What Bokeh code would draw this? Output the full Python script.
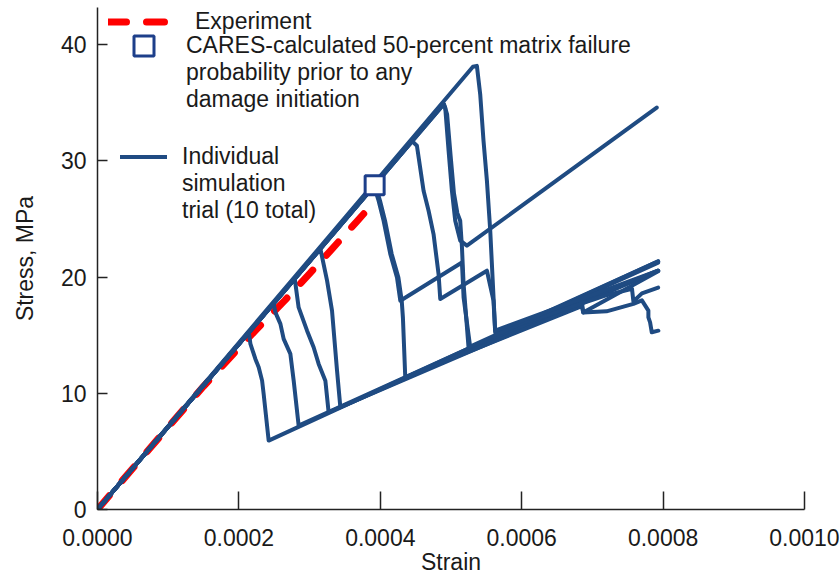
from bokeh.plotting import figure
from bokeh.models import Range1d, Legend, LegendItem, FixedTicker
from bokeh.embed import file_html
from bokeh.resources import INLINE

# ---------------- data ----------------
x_ticks = [0.0, 0.0002, 0.0004, 0.0006, 0.0008, 0.0010]
x_tick_labels = ["0.0000", "0.0002", "0.0004", "0.0006", "0.0008", "0.0010"]
y_ticks = [0, 10, 20, 30, 40]
y_tick_labels = ["0", "10", "20", "30", "40"]

exp_strain = [0.0, 0.00005, 0.0001, 0.00015, 0.0002, 0.000225, 0.000265, 0.0003, 0.00033, 0.000367, 0.000395]
exp_stress = [0.0, 3.55, 7.1, 10.6, 13.9, 15.5, 18.0, 20.3, 22.3, 24.8, 26.7]

cares_strain = [0.000392]
cares_stress = [27.9]

t1_strain = [0, 0.000214, 0.0002163, 0.0002233, 0.000228, 0.0002328, 0.000235, 0.0002421, 0.000793]
t1_stress = [0, 15.25, 14.25, 12.96, 12.24, 11.09, 9.95, 5.93, 21.35]

t2_strain = [0, 0.000249, 0.0002516, 0.0002587, 0.0002633, 0.0002728, 0.0002775, 0.0002845, 0.000793]
t2_stress = [0, 17.75, 16.96, 15.97, 14.68, 13.39, 11.09, 7.22, 21.25]

t3_strain = [0, 0.000279, 0.0002845, 0.0002964, 0.0003057, 0.0003128, 0.0003223, 0.0003269, 0.000793]
t3_stress = [0, 19.85, 17.39, 15.39, 13.96, 12.53, 11.09, 8.37, 20.55]

t4_strain = [0, 0.0003152, 0.0003247, 0.0003317, 0.0003388, 0.0003435, 0.000685, 0.000687, 0.000793]
t4_stress = [0, 22.45, 19.69, 17.11, 11.95, 8.80, 17.97, 16.96, 20.5]

t5_strain = [0, 0.000391, 0.0003976, 0.0004047, 0.0004141, 0.0004236, 0.0004283, 0.0005155, 0.0005178, 0.0005272, 0.000793]
t5_stress = [0, 27.85, 26.57, 24.85, 21.99, 19.97, 17.97, 21.26, 18.25, 13.96, 20.55]

t6_strain = [0, 0.000393, 0.0003996, 0.0004067, 0.0004161, 0.0004256, 0.0004303, 0.000432, 0.0004353,
             0.000685, 0.000687, 0.00072, 0.000758, 0.00077, 0.0007792, 0.0007792, 0.0007816, 0.000784, 0.0007933]
t6_stress = [0, 27.95, 26.57, 24.85, 21.99, 19.97, 17.97, 16.5, 11.38,
             17.5, 16.96, 17.05, 17.7, 18.0, 17.11, 16.53, 16.1, 15.25, 15.39]

t7_strain = [0, 0.000445, 0.0004518, 0.0004612, 0.0004683, 0.0004753, 0.0004824, 0.0004848,
             0.0005508, 0.0005601, 0.0005625, 0.000718, 0.000756, 0.000758, 0.00077, 0.000793]
t7_stress = [0, 31.7, 31.3, 27.43, 25.71, 23.7, 20.27, 18.12,
             20.55, 17.97, 15.24, 18.4, 19.0, 17.9, 18.6, 19.1]

t8_strain = [0, 0.0004895, 0.0004918, 0.0004966, 0.0005013, 0.000506, 0.0005131, 0.0005225, 0.000791]
t8_stress = [0, 34.85, 34.6, 30.87, 27.43, 24.85, 23.13, 22.7, 34.59]

t9_strain = [0, 0.00049, 0.0004945, 0.0004995, 0.0005042, 0.000509, 0.000513, 0.0005155, 0.0005178, 0.0005248, 0.000793]
t9_stress = [0, 34.9, 34.0, 30.4, 27.2, 25.5, 24.85, 22.55, 19.4, 13.96, 21.35]

t10_strain = [0, 0.000531, 0.0005366, 0.0005413, 0.000546, 0.0005508, 0.0005555, 0.0005625, 0.000793]
t10_stress = [0, 38.1, 38.18, 35.74, 31.73, 28.29, 23.99, 15.39, 20.55]

trials = [(t1_strain, t1_stress), (t2_strain, t2_stress), (t3_strain, t3_stress), (t4_strain, t4_stress),
          (t5_strain, t5_stress), (t6_strain, t6_stress), (t7_strain, t7_stress), (t8_strain, t8_stress),
          (t9_strain, t9_stress), (t10_strain, t10_stress)]

legend_exp = ["Experiment"]
legend_cares = ["CARES-calculated 50-percent matrix failure", "probability prior to any", "damage initiation"]
legend_trial = ["Individual", "simulation", "trial (10 total)"]

# ---------------- styling ----------------
FONT = "Liberation Sans"
BLUE = "#1f4b82"
SQUARE = "#1d3f8a"
RED = "#ff0000"
TXT = "#1a1a1a"

p = figure(width=840, height=577, output_backend="svg", toolbar_location=None,
           x_range=Range1d(0, 0.001), y_range=Range1d(0, 43.2),
           min_border_left=97, min_border_right=36, min_border_top=7, min_border_bottom=68)
p.outline_line_color = None
p.grid.visible = False
p.background_fill_color = "white"

# experiment (drawn under the simulations)
red_r = p.line(exp_strain, exp_stress, line_color=RED, line_width=7, line_dash="18 20",
               line_cap="round", line_join="round")

trial_renderers = []
for xs, ys in trials:
    r = p.line(xs, ys, line_color=BLUE, line_width=4, line_cap="round", line_join="round")
    trial_renderers.append(r)

sq_r = p.rect(x=cares_strain, y=cares_stress, width=19, height=19, width_units="screen",
              height_units="screen", fill_color="white", line_color=SQUARE, line_width=3)

# axes
for ax in (p.xaxis[0], p.yaxis[0]):
    ax.axis_line_color = "#222222"
    ax.axis_line_width = 1.5
    ax.major_tick_line_color = "#222222"
    ax.major_tick_line_width = 1.5
    ax.major_tick_out = 0
    ax.minor_tick_line_color = None
    ax.major_label_text_font = FONT
    ax.major_label_text_font_size = "23px"
    ax.major_label_text_color = TXT
    ax.axis_label_text_font = FONT
    ax.axis_label_text_font_size = "23px"
    ax.axis_label_text_font_style = "normal"
    ax.axis_label_text_color = TXT

p.xaxis.ticker = FixedTicker(ticks=x_ticks)
p.xaxis.major_label_overrides = {t: l for t, l in zip(x_ticks, x_tick_labels)}
p.xaxis.major_tick_in = 18
p.xaxis.major_label_standoff = 19
p.xaxis.axis_label = "Strain"
p.xaxis.axis_label_standoff = 0

p.yaxis.ticker = FixedTicker(ticks=y_ticks)
p.yaxis.major_label_overrides = {t: l for t, l in zip(y_ticks, y_tick_labels)}
p.yaxis.major_tick_in = 10
p.yaxis.major_label_standoff = 11
p.yaxis.axis_label = "Stress, MPa"
p.yaxis.axis_label_standoff = 20

# legends (one legend per block so that each block sits where the reference has it)
leg_kw = dict(border_line_color=None, background_fill_alpha=0, padding=0, margin=0, spacing=0,
              label_text_font=FONT, label_text_font_size="23px", label_text_color=TXT,
              label_height=25, glyph_height=25)


def block(lines, renderer):
    items = [LegendItem(label=lines[0], renderers=[renderer])]
    items += [LegendItem(label=t, renderers=[]) for t in lines[1:]]
    return items


legend_a = Legend(items=block(legend_exp, red_r), location=(11, 474),
                  glyph_width=72, label_standoff=15, **leg_kw)
legend_b = Legend(items=block(legend_cares, sq_r), location=(34, 396),
                  glyph_width=25, label_standoff=30, **leg_kw)
legend_c = Legend(items=block(legend_trial, trial_renderers[0]), location=(23, 285),
                  glyph_width=47, label_standoff=15, **leg_kw)

p.add_layout(legend_a)
p.add_layout(legend_b)
p.add_layout(legend_c)

open("out.html", "w").write(file_html(p, INLINE))
